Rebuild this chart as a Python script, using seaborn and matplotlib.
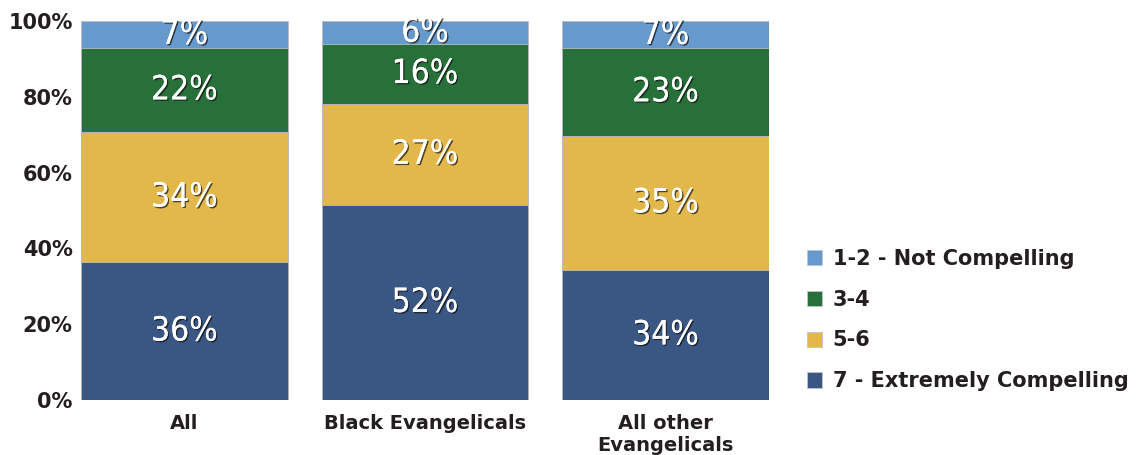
import numpy as np
import pandas as pd
import matplotlib
matplotlib.use("Agg")
import matplotlib.pyplot as plt
import matplotlib.patheffects as pe
from matplotlib.patches import Patch
from matplotlib import font_manager as fm
import seaborn as sns

categories = ["All", "Black Evangelicals", "All other\nEvangelicals"]
levels = ["7 - Extremely Compelling", "5-6", "3-4", "1-2 - Not Compelling"]
v_extreme = [36, 52, 34]
v_56 = [34, 27, 35]
v_34 = [22, 16, 23]
v_12 = [7, 6, 7]
colors = ["#3a5683", "#e3b84a", "#28703a", "#6699cc"]

sns.set_theme(style="white")
plt.rcParams["font.family"] = ["DejaVu Sans"]

# look for a condensed face for the value labels (prefer a regular weight)
cands = []
for f in fm.fontManager.ttflist:
    st = str(f.stretch).lower()
    nm = f.name.lower()
    if ("condensed" in st or "narrow" in nm or "condensed" in nm) and "mono" not in nm and f.style == "normal":
        w = f.weight if isinstance(f.weight, (int, float)) else (700 if "bold" in str(f.weight) else 400)
        cands.append((abs(w - 450), f))
cands.sort(key=lambda t: t[0])
if cands:
    label_fp = fm.FontProperties(fname=cands[0][1].fname, size=24)
else:
    label_fp = fm.FontProperties(family="DejaVu Sans", size=21)

vals = np.array([v_extreme, v_56, v_34, v_12], dtype=float)
totals = vals.sum(axis=0)
share = vals / totals * 100
cum = np.cumsum(share, axis=0)

fig = plt.figure(figsize=(11.46, 4.55), dpi=100)
ax = fig.add_axes([81 / 1146, 1 - 400 / 455, (769 - 81) / 1146, (400 - 21) / 455])

for i in range(len(levels) - 1, -1, -1):
    df = pd.DataFrame({"cat": categories, "val": cum[i]})
    sns.barplot(data=df, x="cat", y="val", color=colors[i], width=0.86,
                saturation=1, ax=ax, edgecolor="#b8bcc4", linewidth=0.6)

for i in range(len(levels)):
    for j in range(len(categories)):
        mid = cum[i, j] - share[i, j] / 2
        ax.text(j, mid, f"{int(vals[i, j])}%", ha="center", va="center",
                color="white", fontproperties=label_fp,
                path_effects=[pe.withSimplePatchShadow(offset=(1, -1), shadow_rgbFace="#111111", alpha=0.7),
                              pe.Normal()])

ax.set_xlim(-0.43, 2.43)
ax.set_ylim(0, 100)
ax.set_yticks([0, 20, 40, 60, 80, 100])
ax.set_yticklabels([f"{t}%" for t in [0, 20, 40, 60, 80, 100]])
ax.set_xlabel("")
ax.set_ylabel("")
for s in ax.spines.values():
    s.set_visible(False)
ax.tick_params(axis="y", length=0, pad=6, labelsize=15, labelcolor="#231f20")
ax.tick_params(axis="x", length=0, pad=10, labelsize=14, labelcolor="#231f20")
for lab in ax.get_yticklabels() + ax.get_xticklabels():
    lab.set_fontweight("bold")

handles = [Patch(facecolor=colors[i], edgecolor="#c0c4cc", linewidth=0.6, label=levels[i]) for i in range(3, -1, -1)]
leg = fig.legend(handles=handles, loc="center left", bbox_to_anchor=(788 / 1146, 1 - 320 / 455),
                 frameon=False, handlelength=0.75, handleheight=0.75, labelspacing=1.0,
                 handletextpad=0.5, prop={"weight": "bold", "size": 15})
for t in leg.get_texts():
    t.set_color("#231f20")

fig.savefig("out.png", dpi=100)
